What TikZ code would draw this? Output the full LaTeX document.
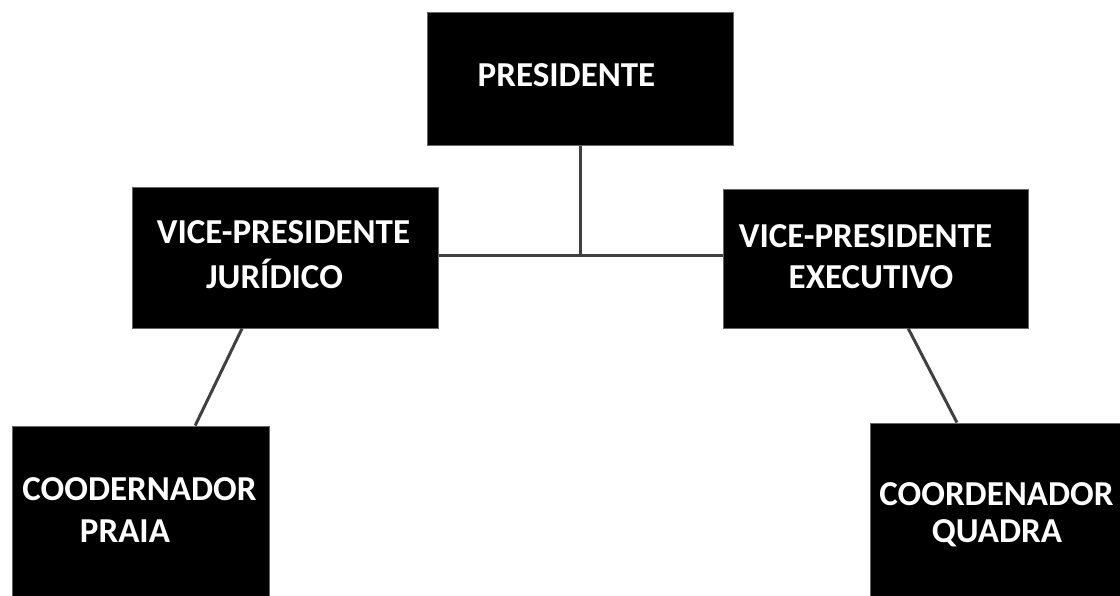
\documentclass[tikz,border=0pt]{standalone}
\usepackage{fontspec}
\setmainfont{Carlito}
\usetikzlibrary{calc}
\begin{document}
\begin{tikzpicture}[x=1pt,y=-1pt,
  box/.style={rectangle,fill=black,draw=black!60,line width=1pt,inner sep=0pt},
  lbl/.style={text=white,anchor=base,inner sep=0pt,font=\fontsize{35}{45}\selectfont\bfseries},
  conn/.style={draw=black!75,line width=3pt}]
\clip (0,0) rectangle (1120,595);
\fill[white] (0,0) rectangle (1120,595);
% boxes
\node[box,minimum width=306pt,minimum height=133pt] (pres) at (580,78.5) {};
\node[box,minimum width=306pt,minimum height=141pt] (vpj) at (285,257.5) {};
\node[box,minimum width=305pt,minimum height=139pt] (vpe) at (875.5,258.5) {};
\node[box,minimum width=257pt,minimum height=180pt] (praia) at (140.5,516) {};
\node[box,minimum width=260pt,minimum height=182pt] (quadra) at (1000,514) {};
% labels
\node[lbl] (tpres) at (566.5,86) {PRESIDENTE};
\node[lbl] (tvpj1) at (283.5,243) {VICE-PRESIDENTE};
\node[lbl] (tvpj2) at (274.5,288) {JURÍDICO};
\node[lbl] (tvpe1) at (865.5,247) {VICE-PRESIDENTE};
\node[lbl] (tvpe2) at (871,288) {EXECUTIVO};
\node[lbl] (tpra1) at (139.5,500) {COODERNADOR};
\node[lbl] (tpra2) at (125,542) {PRAIA};
\node[lbl] (tqua1) at (996.5,505) {COORDENADOR};
\node[lbl] (tqua2) at (997,542) {QUADRA};
% connectors
\coordinate (junc) at (580,255);
\draw[conn] (pres.south) -- (junc);
\draw[conn] (junc -| vpj.east) -- (junc -| vpe.west);
\draw[conn] ($(vpj.south west)!0.36!(vpj.south east)$) -- ($(praia.north west)!0.712!(praia.north east)$);
\draw[conn] ($(vpe.south west)!0.607!(vpe.south east)$) -- ($(quadra.north west)!0.335!(quadra.north east)$);
\end{tikzpicture}
\end{document}
